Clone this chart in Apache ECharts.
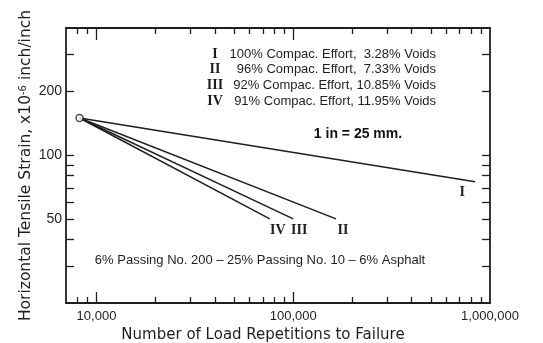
<!DOCTYPE html>
<html><head><meta charset="utf-8">
<script src="https://cdn.jsdelivr.net/npm/echarts@6/dist/echarts.min.js"></script>
<style>html,body{margin:0;padding:0;background:#fff}#c{width:543px;height:343px}</style>
</head><body><div id="c"></div>
<script>
// ---- data ----
const seriesNames = ['I', 'II', 'III', 'IV'];
const startRepetitions = 8200;
const startStrain = 150;
const endRepetitions = [840000, 165000, 100000, 76000];
const endStrain = [75, 50, 50, 50];
const legendPercent = ['100%', '96%', '92%', '91%'];
const legendVoids = ['3.28%', '7.33%', '10.85%', '11.95%'];
const xLabelValues = [10000, 100000, 1000000];
const xLabelTexts = ['10,000', '100,000', '1,000,000'];
const xMinorTicks = [8000, 9000, 20000, 30000, 40000, 50000, 60000, 70000, 80000, 90000,
  200000, 300000, 400000, 500000, 600000, 700000, 800000, 900000];
const xMajorTicks = [10000, 100000];
const yLabelValues = [50, 100, 200];
const yTicks = [30, 40, 50, 60, 70, 80, 90, 100, 200, 300];
const xTitle = 'Number of Load Repetitions to Failure';
const yTitle = 'Horizontal Tensile Strain, x10{sup|-6} inch/inch';
const noteScale = '1 in = 25 mm.';
const noteMix = '6% Passing No. 200 \u2013 25% Passing No. 10 \u2013 6% Asphalt';

// ---- style ----
const INK = '#1e1e1e';
const SANS = 'Liberation Sans';
const labelOffsets = [[-13, 4], [7, 5], [6, 5], [8, 5]];

const chart = echarts.init(document.getElementById('c'));

function xAxisCfg(pos, ticks, len, showLine, showLabel) {
  return {
    type: 'log', position: pos, min: 7000, max: 1000000, logBase: 10,
    axisLine: { show: showLine, lineStyle: { color: INK, width: 1.8 } },
    axisTick: { show: true, inside: true, length: len, customValues: ticks,
      lineStyle: { color: INK, width: 1.3 } },
    axisLabel: showLabel ? {
      show: true, customValues: xLabelValues, margin: 7,
      fontFamily: SANS, fontSize: 13, color: INK,
      formatter: v => xLabelTexts[xLabelValues.findIndex(x => Math.abs(x - v) / x < 1e-3)]
    } : { show: false },
    splitLine: { show: false }, minorTick: { show: false }
  };
}
function yAxisCfg(pos, showLabel) {
  return {
    type: 'log', position: pos, min: 20, max: 400, logBase: 10,
    axisLine: { show: true, lineStyle: { color: INK, width: 1.8 } },
    axisTick: { show: true, inside: true, length: 8, customValues: yTicks,
      lineStyle: { color: INK, width: 1.3 } },
    axisLabel: showLabel ? {
      show: true, customValues: yLabelValues, margin: 4,
      fontFamily: SANS, fontSize: 14, color: INK
    } : { show: false },
    splitLine: { show: false }
  };
}

const xAxes = [
  xAxisCfg('bottom', xMinorTicks, 6, true, true),
  xAxisCfg('bottom', xMajorTicks, 11, false, false),
  xAxisCfg('top', xMinorTicks, 6, true, false),
  xAxisCfg('top', xMajorTicks, 12, false, false)
];
Object.assign(xAxes[0], {
  name: xTitle, nameLocation: 'middle', nameGap: 25, nameMoveOverlap: false,
  nameTextStyle: { fontFamily: 'DejaVu Sans', fontSize: 15, color: INK, padding: [0, 30, 0, 0] }
});
const yAxes = [yAxisCfg('left', true), yAxisCfg('right', false)];
Object.assign(yAxes[0], {
  name: yTitle, nameLocation: 'middle', nameGap: 32, nameRotate: 90, nameMoveOverlap: false,
  nameTextStyle: { fontFamily: 'DejaVu Sans', fontSize: 15.5, color: INK,
    rich: { sup: { fontFamily: 'DejaVu Sans', fontSize: 10, color: INK, verticalAlign: 'top' } } }
});

const series = seriesNames.map((name, i) => ({
  type: 'line', name, xAxisIndex: 0, yAxisIndex: 0,
  lineStyle: { color: INK, width: 1.5 }, itemStyle: { color: INK },
  z: 2,
  data: [
    { value: [startRepetitions, startStrain], symbol: 'none' },
    { value: [endRepetitions[i], endStrain[i]], symbol: 'circle', symbolSize: 0,
      label: { show: true, formatter: name, position: 'bottom', distance: 0,
        offset: labelOffsets[i], fontFamily: 'Liberation Serif', fontWeight: 'bold',
        fontSize: 14, color: INK } }
  ],
  animation: false
}));
series.push({
  type: 'scatter', name: 'start', xAxisIndex: 0, yAxisIndex: 0, z: 5,
  symbol: 'circle', symbolSize: 7,
  itemStyle: { color: '#fff', borderColor: INK, borderWidth: 1.4 },
  data: [[startRepetitions, startStrain]],
  animation: false
});

const graphics = [];
seriesNames.forEach((name, i) => {
  const y = 54 + i * 15.8;
  graphics.push({ type: 'text', x: 215, y, style: { text: name, textAlign: 'center',
    textVerticalAlign: 'middle', font: 'bold 14px "Liberation Serif"', fill: INK } });
  const gap = legendVoids[i].length < 6 ? '  ' : ' ';
  graphics.push({ type: 'text', x: 436, y, style: {
    text: legendPercent[i] + ' Compac. Effort,' + gap + legendVoids[i] + ' Voids',
    textAlign: 'right', textVerticalAlign: 'middle', font: '13px "Liberation Sans"', fill: INK } });
});
graphics.push({ type: 'text', x: 358, y: 134, style: { text: noteScale, textAlign: 'center',
  textVerticalAlign: 'middle', font: 'bold 14px "Liberation Sans"', fill: '#111' } });
graphics.push({ type: 'text', x: 260, y: 260, style: { text: noteMix, textAlign: 'center',
  textVerticalAlign: 'middle', font: '13px "Liberation Sans"', fill: INK } });

chart.setOption({
  animation: false,
  backgroundColor: '#fff',
  grid: { left: 66, right: 53, top: 28, bottom: 40, outerBoundsMode: 'none', containLabel: false },
  xAxis: xAxes,
  yAxis: yAxes,
  series,
  graphic: graphics
});
</script></body></html>
